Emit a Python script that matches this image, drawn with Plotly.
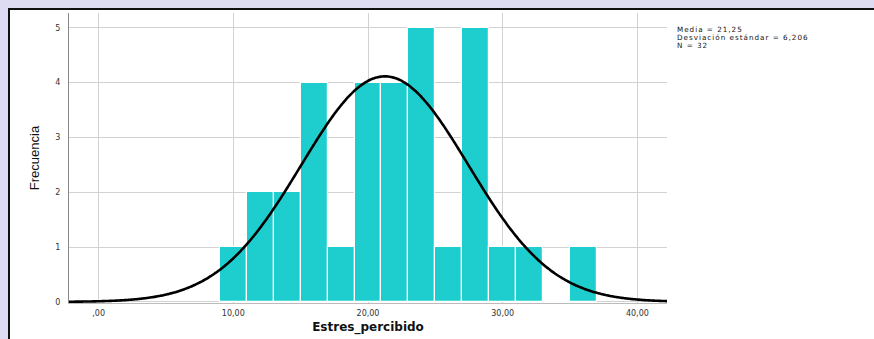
import numpy as np
import plotly.graph_objects as go

# Histogram of perceived stress scores (bin width 2)
bin_left = [9, 11, 13, 15, 17, 19, 21, 23, 25, 27, 29, 31, 33, 35]
counts = [1, 2, 2, 4, 1, 4, 4, 5, 1, 5, 1, 1, 0, 1]
bin_width = 2

# Summary statistics
mean_val = 21.25
std_val = 6.206
n_val = 32

x_tick_vals = [0, 10, 20, 30, 40]
x_tick_text = [",00", "10,00", "20,00", "30,00", "40,00"]
y_tick_vals = [0, 1, 2, 3, 4, 5]

W, H = 874, 339
ml, mr, mt, mb = 69, 207, 13, 36
x_range = [-2.2, 42.2]
y_range = [-0.02, 5.27]

centers = [b + bin_width / 2 for b in bin_left]

# Fitted normal curve scaled to counts
xs = np.linspace(x_range[0], x_range[1], 400)
ys = n_val * bin_width * np.exp(-0.5 * ((xs - mean_val) / std_val) ** 2) / (std_val * np.sqrt(2 * np.pi))

fig = go.Figure()
fig.add_trace(go.Bar(
    x=centers, y=counts, width=bin_width,
    marker=dict(color="#1ECECE", line=dict(color="white", width=1.2)),
    hoverinfo="skip",
))
fig.add_trace(go.Scatter(
    x=xs, y=ys, mode="lines",
    line=dict(color="black", width=2.6, shape="spline"),
    hoverinfo="skip",
))

# Frame around the chart: white panel with dark top and left edges
pw = W - ml - mr
ph = H - mt - mb
def px_x(p):
    return (p - ml) / pw
def px_y(p):
    return (H - mb - p) / ph

fig.add_shape(
    type="rect", xref="paper", yref="paper", layer="below",
    x0=px_x(9), x1=px_x(W + 40), y0=px_y(H + 40), y1=px_y(9),
    fillcolor="white", line=dict(width=0),
)
fig.add_shape(
    type="line", xref="paper", yref="paper", layer="below",
    x0=px_x(9), x1=px_x(W + 40), y0=px_y(9), y1=px_y(9),
    line=dict(color="#111111", width=2),
)
fig.add_shape(
    type="line", xref="paper", yref="paper", layer="below",
    x0=px_x(9), x1=px_x(9), y0=px_y(8), y1=px_y(H + 40),
    line=dict(color="#111111", width=2),
)

tick_font = dict(family="DejaVu Sans, Arial, sans-serif", size=8, color="#333333")

# Statistics text block
stat_lines = [f"Media = {mean_val:.2f}".replace(".", ","),
              f"Desviación estándar = {std_val:.3f}".replace(".", ","),
              f"N = {n_val}"]
for i, t in enumerate(stat_lines):
    fig.add_annotation(
        text=f'<span style="letter-spacing:1px">{t}</span>',
        xref="paper", yref="paper",
        x=px_x(675), y=px_y(29.5 + 8 * i),
        xanchor="left", yanchor="middle", showarrow=False,
        font=dict(family="DejaVu Sans, Arial, sans-serif", size=7.2, color="#111111"),
    )

fig.update_layout(
    width=W, height=H,
    margin=dict(l=ml, r=mr, t=mt, b=mb, autoexpand=False),
    paper_bgcolor="#DEDCF3",
    plot_bgcolor="white",
    showlegend=False,
    bargap=0,
    xaxis=dict(
        range=x_range, tickvals=x_tick_vals, ticktext=x_tick_text,
        showgrid=True, gridcolor="#D2D2D2", gridwidth=1.4,
        zeroline=False, showline=True, linecolor="#BBBBBB", linewidth=1,
        ticks="", tickfont=tick_font, ticklabelstandoff=2, automargin=False,
        title=dict(text="Estres_percibido", standoff=6,
                   font=dict(family="DejaVu Sans, Arial, sans-serif", size=12, color="#111111", weight="bold")),
    ),
    yaxis=dict(
        range=y_range, tickvals=y_tick_vals,
        showgrid=True, gridcolor="#D2D2D2", gridwidth=1.2,
        zeroline=False, showline=True, linecolor="#888888", linewidth=1.2,
        ticks="", tickfont=tick_font, ticklabelstandoff=6, automargin=False,
        title=dict(text="Frecuencia", standoff=12,
                   font=dict(family="Liberation Sans Narrow, Arial Narrow, Arial, sans-serif", size=13, color="#111111")),
    ),
)

fig.write_html("out.html")
